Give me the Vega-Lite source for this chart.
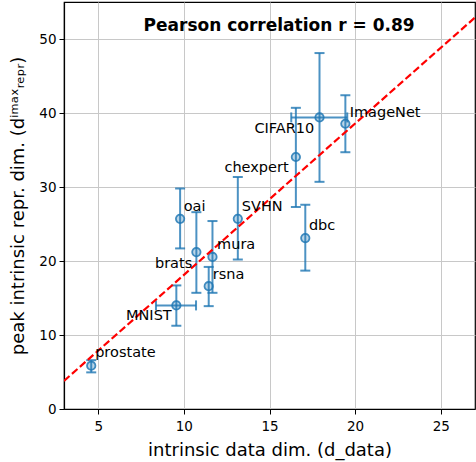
{
  "$schema": "https://vega.github.io/schema/vega-lite/v6.json",
  "autosize": "none",
  "padding": {"left": 64, "top": 2, "right": 1, "bottom": 53},
  "width": 411,
  "height": 407,
  "background": "white",
  "config": {
    "font": "DejaVu Sans",
    "view": {"stroke": "black", "strokeWidth": 1.2},
    "axis": {
      "grid": true,
      "gridColor": "#c8c8c8",
      "gridWidth": 1,
      "domainColor": "black",
      "domainWidth": 1.2,
      "tickColor": "black",
      "tickSize": 5,
      "tickWidth": 1,
      "labelFont": "DejaVu Sans",
      "labelFontSize": 13.5,
      "labelColor": "black",
      "titleFont": "DejaVu Sans",
      "titleFontSize": 18,
      "titleFontWeight": "normal",
      "titleColor": "black"
    }
  },
  "datasets": {
    "pts": [
      {"name": "prostate", "x": 4.59, "y": 5.85, "ylo": 4.95, "yhi": 6.6, "xlo": null, "xhi": null, "lx": 4.82, "ly": 7.06},
      {"name": "MNIST", "x": 9.56, "y": 14.0, "ylo": 11.25, "yhi": 16.7, "xlo": 8.37, "xhi": 10.71, "lx": 6.62, "ly": 12.0},
      {"name": "oai", "x": 9.78, "y": 25.7, "ylo": 21.7, "yhi": 29.8, "xlo": null, "xhi": null, "lx": 9.99, "ly": 26.76},
      {"name": "brats", "x": 10.73, "y": 21.2, "ylo": 15.7, "yhi": 26.6, "xlo": null, "xhi": null, "lx": 8.31, "ly": 19.12},
      {"name": "rsna", "x": 11.45, "y": 16.6, "ylo": 13.9, "yhi": 19.2, "xlo": null, "xhi": null, "lx": 11.69, "ly": 17.54},
      {"name": "mura", "x": 11.67, "y": 20.55, "ylo": 15.7, "yhi": 25.4, "xlo": null, "xhi": null, "lx": 11.94, "ly": 21.59},
      {"name": "SVHN", "x": 13.15, "y": 25.7, "ylo": 20.2, "yhi": 31.35, "xlo": null, "xhi": null, "lx": 13.38, "ly": 26.76},
      {"name": "chexpert", "x": 16.54, "y": 34.05, "ylo": 27.3, "yhi": 40.7, "xlo": null, "xhi": null, "lx": 12.37, "ly": 32.02},
      {"name": "dbc", "x": 17.09, "y": 23.1, "ylo": 18.7, "yhi": 27.6, "xlo": null, "xhi": null, "lx": 17.3, "ly": 24.16},
      {"name": "CIFAR10", "x": 17.92, "y": 39.4, "ylo": 30.7, "yhi": 48.1, "xlo": 16.27, "xhi": 19.54, "lx": 14.12, "ly": 37.34},
      {"name": "ImageNet", "x": 19.43, "y": 38.55, "ylo": 34.7, "yhi": 42.4, "xlo": null, "xhi": null, "lx": 19.68, "ly": 39.45}
    ],
    "fit": [
      {"x": 3, "y": 3.8},
      {"x": 27, "y": 52.9}
    ],
    "note": [
      {"x": 15.56, "y": 51.05, "text": "Pearson correlation r = 0.89"}
    ]
  },
  "layer": [
    {
      "data": {"name": "pts"},
      "mark": {"type": "rule", "color": "#1f77b4", "strokeWidth": 2, "opacity": 0.8},
      "encoding": {
        "x": {"field": "x", "type": "quantitative", "scale": {"domain": [3, 27], "nice": false, "zero": false},
          "axis": {"values": [5, 10, 15, 20, 25], "title": "intrinsic data dim. (d_data)", "labelPadding": 5, "titlePadding": 9}},
        "y": {"field": "ylo", "type": "quantitative", "scale": {"domain": [0, 55], "nice": false, "zero": false},
          "axis": {"values": [0, 10, 20, 30, 40, 50], "title": "peak intrinsic repr. dim. (dⁱᵐᵃˣᵣₑₚᵣ)", "labelPadding": 3, "titlePadding": 11}},
        "y2": {"field": "yhi"}
      }
    },
    {
      "data": {"name": "pts"},
      "transform": [{"filter": "datum.xlo != null"}],
      "mark": {"type": "rule", "color": "#1f77b4", "strokeWidth": 2, "opacity": 0.8},
      "encoding": {
        "x": {"field": "xlo", "type": "quantitative"},
        "x2": {"field": "xhi"},
        "y": {"field": "y", "type": "quantitative"}
      }
    },
    {
      "data": {"name": "pts"},
      "transform": [{"fold": ["ylo", "yhi"], "as": ["end", "yv"]}],
      "mark": {"type": "point", "shape": "M-1,0L1,0", "size": 100, "stroke": "#1f77b4", "strokeWidth": 2, "opacity": 0.8, "filled": false},
      "encoding": {
        "x": {"field": "x", "type": "quantitative"},
        "y": {"field": "yv", "type": "quantitative"}
      }
    },
    {
      "data": {"name": "pts"},
      "transform": [{"filter": "datum.xlo != null"}, {"fold": ["xlo", "xhi"], "as": ["end", "xv"]}],
      "mark": {"type": "point", "shape": "M0,-1L0,1", "size": 100, "stroke": "#1f77b4", "strokeWidth": 2, "opacity": 0.8, "filled": false},
      "encoding": {
        "x": {"field": "xv", "type": "quantitative"},
        "y": {"field": "y", "type": "quantitative"}
      }
    },
    {
      "data": {"name": "pts"},
      "mark": {"type": "point", "shape": "circle", "size": 70, "stroke": "#1f77b4", "strokeWidth": 1.8, "fill": "#1f77b4", "fillOpacity": 0.35, "opacity": 0.85, "filled": false},
      "encoding": {
        "x": {"field": "x", "type": "quantitative"},
        "y": {"field": "y", "type": "quantitative"}
      }
    },
    {
      "data": {"name": "fit"},
      "mark": {"type": "line", "color": "#ff0000", "strokeWidth": 2.2, "strokeDash": [7.4, 3.2], "clip": true},
      "encoding": {
        "x": {"field": "x", "type": "quantitative"},
        "y": {"field": "y", "type": "quantitative"}
      }
    },
    {
      "data": {"name": "pts"},
      "mark": {"type": "text", "align": "left", "baseline": "alphabetic", "fontSize": 14.5, "font": "DejaVu Sans", "color": "black"},
      "encoding": {
        "x": {"field": "lx", "type": "quantitative"},
        "y": {"field": "ly", "type": "quantitative"},
        "text": {"field": "name"}
      }
    },
    {
      "data": {"name": "note"},
      "mark": {"type": "text", "align": "center", "baseline": "alphabetic", "fontSize": 17, "fontWeight": "bold", "font": "DejaVu Sans", "color": "black"},
      "encoding": {
        "x": {"field": "x", "type": "quantitative"},
        "y": {"field": "y", "type": "quantitative"},
        "text": {"field": "text"}
      }
    }
  ]
}
